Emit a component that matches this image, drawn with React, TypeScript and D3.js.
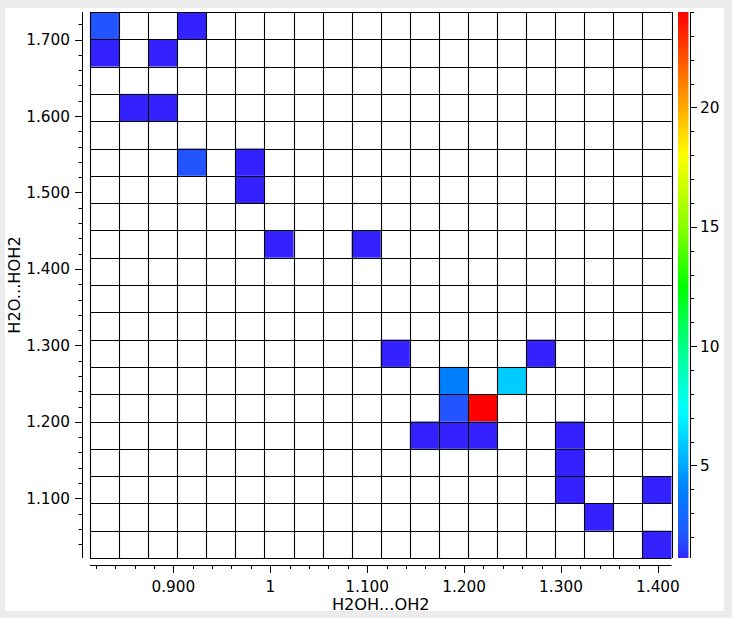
import React from "react";
import * as d3 from "d3";

// ---- data ----
const xBinStart = 0.814;
const xBinStep = 0.03;
const yBinStart = 1.022;
const yBinStep = 0.0357;
const binCount = 20;

// bin centres of occupied cells: H2OH...OH2 (x), H2O...HOH2 (y), count
const cellX = [0.829, 0.919, 0.829, 0.889, 0.859, 0.889, 0.919, 0.979, 0.979, 1.009, 1.099, 1.129, 1.279, 1.189, 1.249, 1.189, 1.219, 1.159, 1.189, 1.219, 1.309, 1.309, 1.309, 1.399, 1.339, 1.399];
const cellY = [1.718, 1.718, 1.682, 1.682, 1.611, 1.611, 1.540, 1.540, 1.504, 1.433, 1.433, 1.290, 1.290, 1.254, 1.254, 1.218, 1.218, 1.183, 1.183, 1.183, 1.183, 1.147, 1.111, 1.111, 1.076, 1.040];
const cellCount = [2, 1, 1, 1, 1, 1, 2, 1, 1, 1, 1, 1, 1, 4, 6, 2, 24, 1, 1, 1, 1, 1, 1, 1, 1, 1];

const xMajorTicks = [0.9, 1.0, 1.1, 1.2, 1.3, 1.4];
const xMajorLabels = ["0.900", "1", "1.100", "1.200", "1.300", "1.400"];
const yMajorTicks = [1.1, 1.2, 1.3, 1.4, 1.5, 1.6, 1.7];
const yMajorLabels = ["1.100", "1.200", "1.300", "1.400", "1.500", "1.600", "1.700"];
const colorTicks = [5, 10, 15, 20];
const colorDomain = [1.12, 24];

const colorStops = [1, 2, 4, 7.3, 10, 12.5, 15, 18, 20, 24];
const colorValues = ["#3322ff", "#2255ff", "#0080ff", "#00ffff", "#00ff88", "#00ff00", "#88ff00", "#ffff00", "#ffaa00", "#ff0000"];

const xLabel = "H2OH...OH2";
const yLabel = "H2O...HOH2";

export default function App() {
  const W = 732, H = 618;
  const left = 90, right = 671.5, top = 12, bottom = 558;
  const xMax = xBinStart + xBinStep * binCount;
  const yMax = yBinStart + yBinStep * binCount;
  const x = d3.scaleLinear().domain([xBinStart, xMax]).range([left, right]);
  const y = d3.scaleLinear().domain([yBinStart, yMax]).range([bottom, top]);
  const color = d3.scaleLinear<string>().domain(colorStops).range(colorValues).interpolate(d3.interpolateRgb).clamp(true);

  const xEdges = d3.range(binCount + 1).map((i) => xBinStart + i * xBinStep);
  const yEdges = d3.range(binCount + 1).map((i) => yBinStart + i * yBinStep);

  const cells = cellX.map((cx, i) => {
    const ix = Math.floor((cx - xBinStart) / xBinStep);
    const iy = Math.floor((cellY[i] - yBinStart) / yBinStep);
    return { x0: xEdges[ix], x1: xEdges[ix + 1], y0: yEdges[iy], y1: yEdges[iy + 1], v: cellCount[i] };
  });

  const xMinor = d3.range(0.82, 1.4001, 0.02);
  const yMinor = d3.range(1.04, 1.7201, 0.02);

  const xAxisY = 565;
  const yAxisX = 82;

  const cbLeft = 678, cbRight = 688.5;
  const c = d3.scaleLinear().domain(colorDomain).range([bottom, top]);
  const cbMinor = d3.range(2, 24.001, 1);
  const gradStops = d3.range(0, 1.0001, 0.02).map((t) => {
    const v = colorDomain[0] + t * (colorDomain[1] - colorDomain[0]);
    return { off: t, col: color(v) };
  });

  const font = "'DejaVu Sans', sans-serif";
  const fs = 15.3;
  const tfs = 16.2;

  return (
    <svg width={W} height={H} style={{ position: "absolute", left: 0, top: 0 }} fontFamily={font}>
      <defs>
        <linearGradient id="cbar" x1="0" y1="1" x2="0" y2="0">
          {gradStops.map((s, i) => (
            <stop key={i} offset={s.off} stopColor={s.col} />
          ))}
        </linearGradient>
      </defs>
      <rect x={0} y={0} width={W} height={H} fill="#ececec" />
      <rect x={5} y={8} width={719} height={603} fill="#ffffff" />

      {/* cells */}
      {cells.map((d, i) => (
        <rect key={i} x={x(d.x0)} y={y(d.y1)} width={x(d.x1) - x(d.x0)} height={y(d.y0) - y(d.y1)} fill={color(d.v)} />
      ))}

      {/* grid */}
      <g stroke="#000" strokeWidth={1.1}>
        {xEdges.map((v, i) => (
          <line key={"gx" + i} x1={Math.round(x(v)) + 0.5} x2={Math.round(x(v)) + 0.5} y1={top} y2={bottom} />
        ))}
        {yEdges.map((v, i) => (
          <line key={"gy" + i} x1={left} x2={right} y1={Math.round(y(v)) + 0.5} y2={Math.round(y(v)) + 0.5} />
        ))}
      </g>

      {/* x axis */}
      <g stroke="#000" strokeWidth={1}>
        <line x1={left} x2={right} y1={xAxisY + 0.5} y2={xAxisY + 0.5} />
        {xMinor.map((v, i) => (
          <line key={"xm" + i} x1={Math.round(x(v)) + 0.5} x2={Math.round(x(v)) + 0.5} y1={xAxisY} y2={xAxisY + 4} />
        ))}
        {xMajorTicks.map((v, i) => (
          <line key={"xM" + i} x1={Math.round(x(v)) + 0.5} x2={Math.round(x(v)) + 0.5} y1={xAxisY} y2={xAxisY + 8} />
        ))}
      </g>
      {xMajorTicks.map((v, i) => (
        <text key={"xl" + i} x={x(v)} y={592} textAnchor="middle" fontSize={fs} fill="#000">
          {xMajorLabels[i]}
        </text>
      ))}
      <text x={(left + right) / 2} y={610} textAnchor="middle" fontSize={tfs} fill="#000">
        {xLabel}
      </text>

      {/* y axis */}
      <g stroke="#000" strokeWidth={1}>
        <line x1={yAxisX + 0.5} x2={yAxisX + 0.5} y1={top} y2={bottom} />
        {yMinor.map((v, i) => (
          <line key={"ym" + i} x1={yAxisX - 3.5} x2={yAxisX + 0.5} y1={Math.round(y(v)) + 0.5} y2={Math.round(y(v)) + 0.5} />
        ))}
        {yMajorTicks.map((v, i) => (
          <line key={"yM" + i} x1={yAxisX - 7} x2={yAxisX + 0.5} y1={Math.round(y(v)) + 0.5} y2={Math.round(y(v)) + 0.5} />
        ))}
      </g>
      {yMajorTicks.map((v, i) => (
        <text key={"yl" + i} x={70} y={y(v)} dy="0.36em" textAnchor="end" fontSize={fs} fill="#000">
          {yMajorLabels[i]}
        </text>
      ))}
      <text transform={`translate(20,${(top + bottom) / 2}) rotate(-90)`} textAnchor="middle" fontSize={tfs} fill="#000">
        {yLabel}
      </text>

      {/* colour bar */}
      <rect x={cbLeft} y={top} width={cbRight - cbLeft} height={bottom - top} fill="url(#cbar)" />
      <g stroke="#000" strokeWidth={1}>
        <line x1={690.5} x2={690.5} y1={top} y2={bottom} />
        {cbMinor.map((v, i) => (
          <line key={"cm" + i} x1={690.5} x2={694} y1={Math.round(c(v)) + 0.5} y2={Math.round(c(v)) + 0.5} />
        ))}
        {colorTicks.map((v, i) => (
          <line key={"cM" + i} x1={690.5} x2={697} y1={Math.round(c(v)) + 0.5} y2={Math.round(c(v)) + 0.5} />
        ))}
      </g>
      {colorTicks.map((v, i) => (
        <text key={"cl" + i} x={700} y={c(v)} dy="0.36em" textAnchor="start" fontSize={fs} fill="#000">
          {v}
        </text>
      ))}
    </svg>
  );
}
